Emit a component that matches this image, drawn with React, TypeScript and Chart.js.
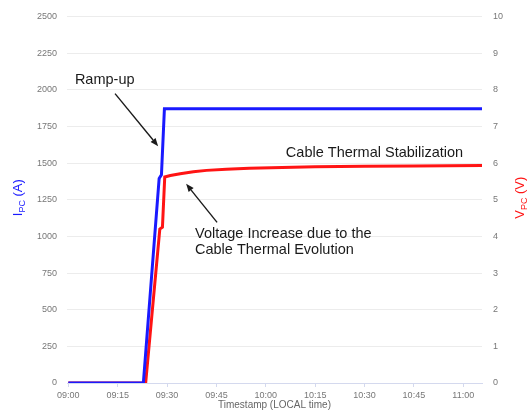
import React, { useEffect, useRef } from "react";
import { Chart, registerables } from "chart.js";

Chart.register(...registerables);

// Time in minutes after 09:00
const currentTimes = [0, 22.8, 27.6, 28.3, 29.2, 125.7];
const currentValues = [0, 0, 1395, 1420, 1870, 1870];

const voltageTimes = [0, 23.5, 27.8, 28.6, 29.3, 31, 34, 38, 42, 48, 55, 65, 75, 90, 105, 125.7];
const voltageValues = [0, 0, 4.2, 4.25, 5.62, 5.66, 5.71, 5.76, 5.8, 5.83, 5.86, 5.88, 5.9, 5.91, 5.92, 5.93];

const xTickValues = [0, 15, 30, 45, 60, 75, 90, 105, 120];
const xTickLabels = ["09:00", "09:15", "09:30", "09:45", "10:00", "10:15", "10:30", "10:45", "11:00"];

const annotationTexts = [
  { text: "Ramp-up", x: 2.0, y: 2068 },
  { text: "Cable Thermal Stabilization", x: 66.1, y: 1568 },
  { text: "Voltage Increase due to the", x: 38.5, y: 1014 },
  { text: "Cable Thermal Evolution", x: 38.5, y: 905 },
];
const annotationArrows = [
  { x1: 14.2, y1: 1973, x2: 27.3, y2: 1615 },
  { x1: 45.2, y1: 1095, x2: 35.8, y2: 1358 },
];

const BLUE = "#1a1aff";
const RED = "#ff1414";
const FONT = "'Liberation Sans', Arial, Helvetica, sans-serif";

function drawSubTitle(ctx: CanvasRenderingContext2D, cx: number, cy: number, main: string, sub: string, rest: string, color: string) {
  const big = `13px ${FONT}`;
  const small = `9px ${FONT}`;
  ctx.save();
  ctx.translate(cx, cy);
  ctx.rotate(-Math.PI / 2);
  ctx.fillStyle = color;
  ctx.textBaseline = "alphabetic";
  ctx.textAlign = "left";
  ctx.font = big;
  const w1 = ctx.measureText(main).width;
  const w3 = ctx.measureText(rest).width;
  ctx.font = small;
  const w2 = ctx.measureText(sub).width;
  const total = w1 + w2 + w3;
  let x = -total / 2;
  const base = 4.5;
  ctx.font = big;
  ctx.fillText(main, x, base);
  x += w1;
  ctx.font = small;
  ctx.fillText(sub, x, base + 3);
  x += w2;
  ctx.font = big;
  ctx.fillText(rest, x, base);
  ctx.restore();
}

const overlayPlugin = {
  id: "overlay",
  afterDatasetsDraw(chart: any) {
    const { ctx, scales } = chart;
    const xs = scales.x;
    const ys = scales.y;
    ctx.save();
    ctx.fillStyle = "#1a1a1a";
    ctx.font = `14.5px ${FONT}`;
    ctx.textBaseline = "middle";
    ctx.textAlign = "left";
    for (const t of annotationTexts) {
      ctx.fillText(t.text, xs.getPixelForValue(t.x), ys.getPixelForValue(t.y));
    }
    ctx.strokeStyle = "#1a1a1a";
    ctx.lineWidth = 1.4;
    for (const a of annotationArrows) {
      const x1 = xs.getPixelForValue(a.x1);
      const y1 = ys.getPixelForValue(a.y1);
      const x2 = xs.getPixelForValue(a.x2);
      const y2 = ys.getPixelForValue(a.y2);
      const ang = Math.atan2(y2 - y1, x2 - x1);
      const hl = 8;
      const hw = 3.2;
      const bx = x2 - hl * Math.cos(ang);
      const by = y2 - hl * Math.sin(ang);
      ctx.beginPath();
      ctx.moveTo(x1, y1);
      ctx.lineTo(bx, by);
      ctx.stroke();
      ctx.beginPath();
      ctx.moveTo(x2, y2);
      ctx.lineTo(bx + hw * Math.sin(ang), by - hw * Math.cos(ang));
      ctx.lineTo(bx - hw * Math.sin(ang), by + hw * Math.cos(ang));
      ctx.closePath();
      ctx.fill();
    }
    ctx.restore();
  },
  afterDraw(chart: any) {
    const { ctx, chartArea } = chart;
    const cy = (chartArea.top + chartArea.bottom) / 2 - 2;
    drawSubTitle(ctx, 17, cy, "I", "PC", " (A)", BLUE);
    drawSubTitle(ctx, 519, cy, "V", "PC", " (V)", RED);
  },
};

export default function App() {
  const canvasRef = useRef<HTMLCanvasElement | null>(null);

  useEffect(() => {
    document.body.style.margin = "0";
    const canvas = canvasRef.current;
    if (!canvas) return;

    const currentData = currentTimes.map((t, i) => ({ x: t, y: currentValues[i] }));
    const voltageData = voltageTimes.map((t, i) => ({ x: t, y: voltageValues[i] }));

    const tickFont = { family: FONT, size: 9 };

    const chart = new Chart(canvas, {
      type: "line",
      data: {
        datasets: [
          {
            label: "Current",
            data: currentData,
            borderColor: BLUE,
            backgroundColor: BLUE,
            borderWidth: 3,
            pointRadius: 0,
            tension: 0,
            yAxisID: "y",
          },
          {
            label: "Voltage",
            data: voltageData,
            borderColor: RED,
            backgroundColor: RED,
            borderWidth: 3,
            pointRadius: 0,
            tension: 0,
            yAxisID: "y1",
          },
        ],
      },
      plugins: [overlayPlugin],
      options: {
        animation: false,
        responsive: false,
        devicePixelRatio: 1,
        layout: { padding: { top: 13, left: 0, right: 0, bottom: 0 } },
        plugins: { legend: { display: false }, tooltip: { enabled: false } },
        scales: {
          x: {
            type: "linear",
            min: -0.4,
            max: 125.7,
            afterFit: (s: any) => {
              s.height = 27;
            },
            afterBuildTicks: (s: any) => {
              s.ticks = xTickValues.map((v) => ({ value: v }));
            },
            ticks: {
              font: tickFont,
              color: "#777",
              padding: 3,
              maxRotation: 0,
              autoSkip: false,
              callback: (_v: any, i: number) => xTickLabels[i],
            },
            grid: {
              drawOnChartArea: false,
              drawTicks: true,
              tickLength: 4,
              color: "#d4d9ee",
            },
            border: { display: true, color: "#d4d9ee" },
            title: {
              display: true,
              text: "Timestamp (LOCAL time)",
              color: "#666",
              font: { family: FONT, size: 10 },
              padding: { top: 0, bottom: -1 },
            },
          },
          y: {
            type: "linear",
            position: "left",
            min: 0,
            max: 2500,
            afterFit: (s: any) => {
              s.width = 67;
            },
            ticks: {
              stepSize: 250,
              font: tickFont,
              color: "#777",
              padding: 10,
              callback: (v: any) => String(v),
            },
            grid: { color: "#ececec", drawTicks: false },
            border: { display: false },
          },
          y1: {
            type: "linear",
            position: "right",
            min: 0,
            max: 10,
            afterFit: (s: any) => {
              s.width = 46;
            },
            ticks: {
              stepSize: 1,
              font: tickFont,
              color: "#777",
              padding: 11,
              callback: (v: any) => String(v),
            },
            grid: { drawOnChartArea: false, drawTicks: false },
            border: { display: false },
          },
        },
      },
    } as any);

    return () => {
      chart.destroy();
    };
  }, []);

  return (
    <div style={{ width: 528, height: 410, background: "#fff" }}>
      <canvas ref={canvasRef} width={528} height={410} style={{ display: "block", width: 528, height: 410 }} />
    </div>
  );
}
